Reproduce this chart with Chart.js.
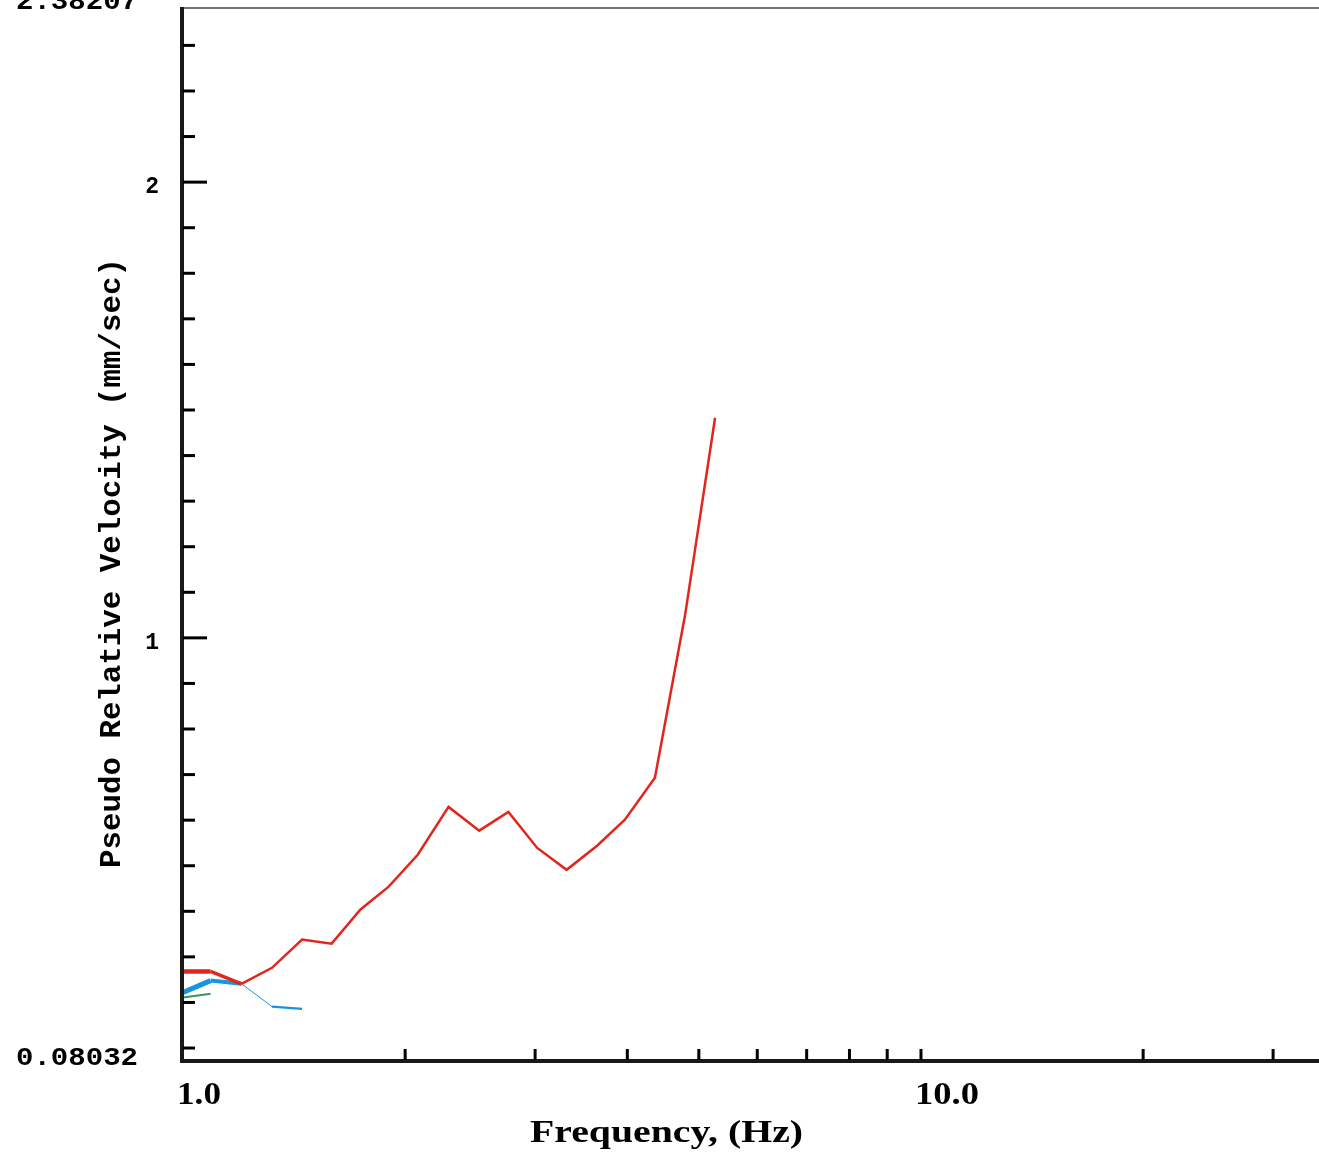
<!DOCTYPE html>
<html>
<head>
<meta charset="utf-8">
<script src="https://cdn.jsdelivr.net/npm/chart.js@4"></script>
<style>
  html, body { margin: 0; padding: 0; background: #fff; overflow: hidden; }
  #wrap { width: 1319px; height: 1154px; position: relative; }
</style>
</head>
<body>
<div id="wrap"><canvas id="spectrum"></canvas></div>
<script>
// frequencies (Hz) shared by all three traces
var freqs = [1.0, 1.09, 1.2, 1.32, 1.45, 1.59, 1.74, 1.9, 2.08, 2.29, 2.52, 2.76, 3.02, 3.31, 3.64, 3.97, 4.36, 4.79, 5.26];
var redVel = [0.268, 0.268, 0.241, 0.276, 0.338, 0.329, 0.404, 0.454, 0.524, 0.629, 0.577, 0.618, 0.539, 0.491, 0.544, 0.601, 0.693, 1.05, 1.483];
var blueVel = [0.222, 0.248, 0.241, 0.191, 0.186];
var greenVel = [0.211, 0.219];

var xMin = 1.0, xMax = 34.62;
var yMin = 0.08032, yMax = 2.38207;
var xTickVals = [2, 3, 4, 5, 6, 7, 8, 9, 10, 20, 30];
var xLabelVals = [1, 10];
var xLabelText = ["1.0", "10.0"];
var yTickVals = [0.1, 0.2, 0.3, 0.4, 0.5, 0.6, 0.7, 0.8, 0.9, 1.0, 1.1, 1.2, 1.3, 1.4, 1.5, 1.6, 1.7, 1.8, 1.9, 2.0, 2.1, 2.2, 2.3];
var yMajorVals = [1, 2];
var yEndVals = [yMax, yMin];
var yEndText = ["2.38207", "0.08032"];
var yMidVals = [2, 1];
var yMidText = ["2", "1"];
var xTitle = "Frequency, (Hz)";
var yTitle = "Pseudo Relative Velocity (mm/sec)";

function pts(vals) {
  return vals.map(function (v, i) { return { x: freqs[i], y: v }; });
}

function fitText(ctx, text, x, y, w, font, align, rot) {
  ctx.save();
  ctx.font = font;
  ctx.textAlign = align;
  ctx.textBaseline = "alphabetic";
  var m = ctx.measureText(text).width;
  ctx.translate(x, y);
  if (rot) ctx.rotate(rot);
  ctx.scale(w / m, 1);
  ctx.fillText(text, 0, 0);
  ctx.restore();
}

function seg(ctx, x1, y1, x2, y2) {
  ctx.beginPath();
  ctx.moveTo(x1, y1);
  ctx.lineTo(x2, y2);
  ctx.stroke();
}

var axesPlugin = {
  id: "axesDraw",
  afterDatasetsDraw: function (chart) {
    var ctx = chart.ctx, a = chart.chartArea, xs = chart.scales.x, ys = chart.scales.y;
    ctx.save();
    ctx.lineCap = "butt";

    // frame
    ctx.strokeStyle = "#444";
    ctx.lineWidth = 1.5;
    seg(ctx, a.left, a.top, a.right, a.top);
    ctx.strokeStyle = "#1c1815";
    ctx.lineWidth = 4;
    seg(ctx, a.left - 1, a.top - 1, a.left - 1, a.bottom + 6);
    seg(ctx, a.left - 3, a.bottom + 4, a.right, a.bottom + 4);

    // y ticks (inside)
    ctx.strokeStyle = "#000";
    ctx.lineWidth = 3;
    yTickVals.forEach(function (v) {
      var py = ys.getPixelForValue(v);
      var len = yMajorVals.indexOf(v) >= 0 ? 24 : 12;
      seg(ctx, a.left, py, a.left + len, py);
    });

    // x ticks (inside, from bottom axis)
    xTickVals.forEach(function (v) {
      var px = xs.getPixelForValue(v);
      seg(ctx, px, a.bottom + 3, px, a.bottom - 8);
    });

    ctx.fillStyle = "#000";
    // y end labels
    yEndVals.forEach(function (v, i) {
      var py = ys.getPixelForValue(v);
      fitText(ctx, yEndText[i], 138, py + (i === 0 ? 1 : 8), 122, "bold 26px 'Liberation Mono'", "right");
    });
    // y mid labels
    yMidVals.forEach(function (v, i) {
      var py = ys.getPixelForValue(v);
      ctx.font = "bold 23px 'Liberation Mono'";
      ctx.textAlign = "right";
      ctx.textBaseline = "alphabetic";
      ctx.fillText(yMidText[i], 159, py + 11);
    });
    // x labels
    xLabelVals.forEach(function (v, i) {
      var px = xs.getPixelForValue(v);
      fitText(ctx, xLabelText[i], px - 6, 1104, i === 0 ? 44 : 64, "bold 32px 'Liberation Serif'", "left");
    });
    // titles
    fitText(ctx, xTitle, 530, 1142, 273, "bold 31px 'Liberation Serif'", "left");
    fitText(ctx, yTitle, 120, 563, 610, "bold 30px 'Liberation Mono'", "center", -Math.PI / 2);

    ctx.restore();
  }
};

var redWidths = [4.5, 3.5];
var blueWidths = [5, 4, 1, 2.2];

new Chart(document.getElementById("spectrum"), {
  type: "line",
  data: {
    datasets: [
      {
        label: "red",
        data: pts(redVel),
        borderColor: "#e0261d",
        borderWidth: 2.5,
        pointRadius: 0,
        tension: 0,
        segment: { borderWidth: function (c) { return redWidths[c.p0DataIndex] || 2.5; } }
      },
      {
        label: "blue",
        data: pts(blueVel),
        borderColor: "#1696dc",
        borderWidth: 2,
        pointRadius: 0,
        tension: 0,
        segment: { borderWidth: function (c) { return blueWidths[c.p0DataIndex] || 2; } }
      },
      {
        label: "green",
        data: pts(greenVel),
        borderColor: "#3f9068",
        borderWidth: 2,
        pointRadius: 0,
        tension: 0
      }
    ]
  },
  options: {
    responsive: true,
    maintainAspectRatio: false,
    animation: false,
    layout: { padding: { left: 183, top: 8, right: 0, bottom: 97 } },
    plugins: { legend: { display: false }, tooltip: { enabled: false } },
    scales: {
      x: { type: "logarithmic", min: xMin, max: xMax, display: false },
      y: { type: "linear", min: yMin, max: yMax, display: false }
    }
  },
  plugins: [axesPlugin]
});
</script>
</body>
</html>
